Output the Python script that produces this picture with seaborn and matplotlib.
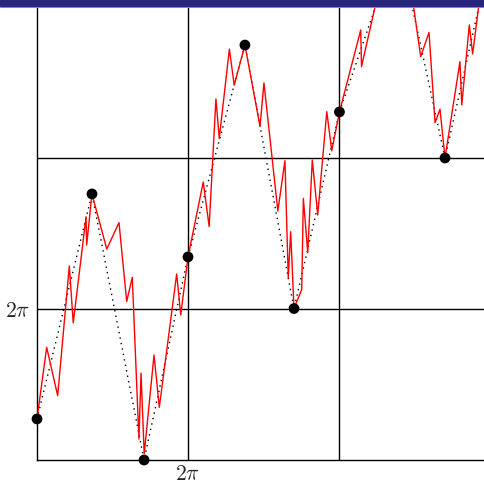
import matplotlib
matplotlib.use("Agg")
import matplotlib.pyplot as plt
import seaborn as sns
from matplotlib.patches import Rectangle
from matplotlib.lines import Line2D

# values in grid units (one grid cell = 2*pi)
walk_x = [0.0, 0.064, 0.137, 0.214, 0.240, 0.325, 0.329, 0.364, 0.462, 0.543,
          0.594, 0.631, 0.675, 0.689, 0.710, 0.775, 0.810, 0.925, 0.952, 1.0,
          1.101, 1.140, 1.185, 1.207, 1.274, 1.306, 1.377, 1.477, 1.503, 1.595,
          1.642, 1.664, 1.680, 1.702, 1.753, 1.764, 1.793, 1.823, 1.859, 1.919,
          1.952, 2.003, 2.144, 2.149, 2.300, 2.390, 2.470, 2.541, 2.596, 2.636,
          2.669, 2.702, 2.801, 2.813, 2.863, 2.885, 2.950, 3.060]
walk_y = [0.272, 0.746, 0.426, 1.285, 0.909, 1.611, 1.424, 1.762, 1.397, 1.572,
          1.050, 1.209, 0.139, 0.576, 0.040, 0.695, 0.349, 1.232, 0.960, 1.345,
          1.841, 1.546, 2.391, 2.130, 2.721, 2.483, 2.748, 2.209, 2.497, 1.649,
          1.982, 1.205, 1.512, 1.003, 1.129, 1.732, 1.373, 1.987, 1.623, 2.307,
          2.048, 2.305, 2.848, 2.605, 3.270, 3.440, 3.170, 2.671, 2.832, 2.234,
          2.323, 2.000, 2.638, 2.351, 2.881, 2.689, 3.200, 3.500]

knot_x = [0.0, 0.364, 0.709, 1.0, 1.377, 1.702, 2.003, 2.391, 2.702, 3.060]
knot_y = [0.272, 1.762, 0.0, 1.345, 2.748, 1.003, 2.305, 3.437, 2.0, 3.600]

tick_pos = [1]
tick_labels = [r"$2\pi$"]

sns.set_style("white")
plt.rcParams["mathtext.fontset"] = "cm"

fig = plt.figure(figsize=(4.85, 4.83), dpi=100)
ax = fig.add_axes([37 / 485, 23 / 483, 1 - 37 / 485, 453 / 483])

for v in [1, 2]:
    ax.axvline(v, color="black", lw=1.0, zorder=1)
    ax.axhline(v, color="black", lw=1.0, zorder=1)

sns.lineplot(x=knot_x, y=knot_y, sort=False, estimator=None, ax=ax,
             color="black", lw=1.0, linestyle=(0, (1, 3)), zorder=2)
sns.lineplot(x=walk_x, y=walk_y, sort=False, estimator=None, ax=ax,
             color="red", lw=1.0, zorder=3)
sns.scatterplot(x=knot_x, y=knot_y, ax=ax, color="black", s=60,
                edgecolor="none", zorder=4, clip_on=False)

ax.set_xlim(0, 448 / 151)
ax.set_ylim(0, 3.0)
ax.set_xticks(tick_pos)
ax.set_xticklabels(tick_labels, fontsize=15.5)
ax.set_yticks(tick_pos)
ax.set_yticklabels(tick_labels, fontsize=15.5)
ax.tick_params(length=0, pad=3)
ax.tick_params(axis="y", pad=5)
for side in ["top", "right"]:
    ax.spines[side].set_visible(False)
for side in ["left", "bottom"]:
    ax.spines[side].set_color("black")
    ax.spines[side].set_linewidth(1.0)

# slide title bar
fig.patches.append(Rectangle((0, 477 / 483), 1, 6 / 483, transform=fig.transFigure,
                             color="#262680", zorder=10))
fig.lines.append(Line2D([0, 1], [476.5 / 483, 476.5 / 483], transform=fig.transFigure,
                        color="#a0a0a0", lw=0.8, zorder=10))

fig.savefig("out.png", dpi=100)
